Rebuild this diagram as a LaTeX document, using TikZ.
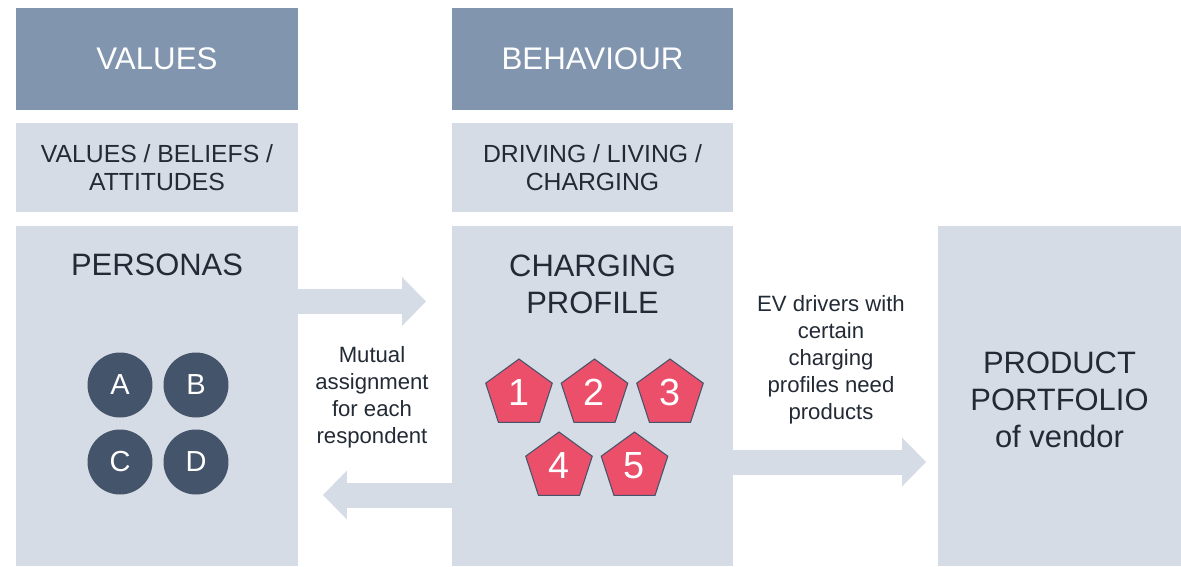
\documentclass[tikz,border=0pt]{standalone}
\usepackage{fontspec}
\setmainfont{Liberation Sans}
\usetikzlibrary{shapes.geometric,arrows.meta}

\definecolor{headblue}{HTML}{8195AE}
\definecolor{panelgrey}{HTML}{D6DCE5}
\definecolor{darkslate}{HTML}{44546A}
\definecolor{pinkred}{HTML}{EB4F6A}
\definecolor{textgrey}{HTML}{222A35}

\tikzset{
  header/.style={fill=headblue, text=white, inner sep=0pt, outer sep=0pt,
    minimum height=2.04cm, font=\fontsize{17.8}{21.4}\selectfont},
  subheader/.style={fill=panelgrey, text=textgrey, align=center, inner sep=0pt,
    outer sep=0pt, minimum height=1.78cm, font=\fontsize{14.1}{15.9}\selectfont},
  panel/.style={fill=panelgrey, inner sep=0pt, outer sep=0pt, minimum height=6.8cm},
  paneltext/.style={text=textgrey, align=center, inner sep=0pt,
    font=\fontsize{17.6}{21.2}\selectfont},
  smalltext/.style={text=textgrey, align=center, inner sep=0pt,
    font=\fontsize{12.6}{15.3}\selectfont},
  persona/.style={circle, fill=darkslate, text=white, minimum size=1.3cm,
    inner sep=0pt, font=\fontsize{16.5}{18}\selectfont},
  chargetype/.style={regular polygon, regular polygon sides=5, fill=pinkred,
    draw=darkslate, line width=0.6pt, minimum size=1.4cm, inner sep=0pt,
    text=white, font=\fontsize{21.5}{24}\selectfont},
  fatarrow/.style={draw=panelgrey, line width=0.5cm,
    -{Triangle[length=0.48cm, width=0.98cm, line width=0pt]}}
}

\begin{document}
\begin{tikzpicture}[x=0.02cm, y=-0.02cm]
\useasboundingbox (0,0) rectangle (1181,566);

% draw headers
\node[header, minimum width=5.64cm] (values) at (157,59) {\raisebox{-0.03cm}{VALUES}};
\node[header, minimum width=5.62cm] (behaviour) at (592.5,59) {\raisebox{-0.03cm}{BEHAVIOUR}};

\node[subheader, minimum width=5.64cm] (beliefs) at (157,167.5) {VALUES / BELIEFS /\\ATTITUDES};
\node[subheader, minimum width=5.62cm] (driving) at (592.5,167.5) {DRIVING / LIVING /\\CHARGING};

% draw panels
\node[panel, minimum width=5.64cm] (personas) at (157,396) {};
\node[panel, minimum width=5.62cm] (charging) at (592.5,396) {};
\node[panel, minimum width=4.86cm] (portfolio) at (1059.5,396) {};

\node[paneltext] (personas-title) at (157,265) {PERSONAS};
\node[paneltext] (charging-title) at (592.5,284.5) {CHARGING\\PROFILE};
\node[paneltext] (portfolio-title) at (1059.5,400) {PRODUCT\\PORTFOLIO\\of vendor};

% personas A-D
\foreach \name/\x/\y in {A/120/385, B/196/385, C/120/462, D/196/462}
\node[persona] (p-\name) at (\x,\y) {\name};

% charging profiles 1-5 (digits sit a bit high in the pentagon)
\foreach \num/\x/\y in {1/519/394, 2/594.5/394, 3/670/394, 4/559/467, 5/634.5/467}
\node[chargetype] (c-\num) at (\x,\y) {\raisebox{0.07cm}{\num}};

% draw arrows between panels
\coordinate (r1) at (0,301.5);
\coordinate (r2) at (0,495);
\coordinate (r3) at (0,462);

\draw[fatarrow, shorten >=0.52cm] (personas.east |- r1) -- (charging.west |- r1);
\draw[fatarrow, shorten >=0.5cm] (charging.west |- r2) -- (personas.east |- r2);
\draw[fatarrow, shorten >=0.24cm] (charging.east |- r3) -- (portfolio.west |- r3);

\node[smalltext] (assign) at (372,397.5) {Mutual\\assignment\\for each\\respondent};
\node[smalltext] (needs) at (831,360) {EV drivers with\\certain\\charging\\profiles need\\products};

\end{tikzpicture}
\end{document}
